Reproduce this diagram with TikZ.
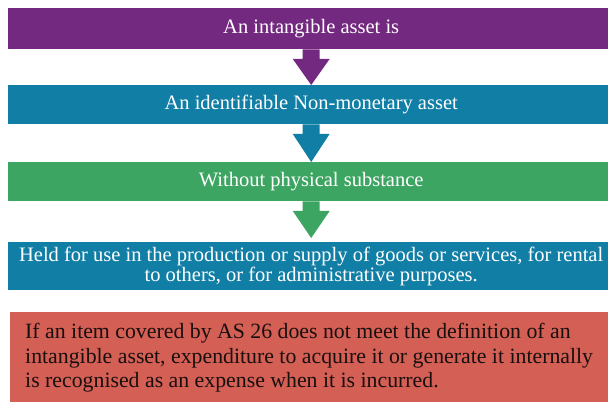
\documentclass[tikz,border=0pt]{standalone}
\usepackage{fontspec}
\setmainfont{Liberation Serif}
\usetikzlibrary{calc}
\definecolor{cpurple}{RGB}{116,41,128}
\definecolor{cteal}{RGB}{17,127,165}
\definecolor{cgreen}{RGB}{61,165,98}
\definecolor{cred}{RGB}{212,95,85}
\definecolor{ctext}{RGB}{25,15,15}
\begin{document}
\begin{tikzpicture}[x=1pt,y=-1pt,
  bar/.style={anchor=north west, minimum width=606pt, inner sep=0pt,
    text=white, font=\fontsize{20.5}{18}\selectfont, align=center},
  note/.style={anchor=north west, minimum width=602pt, minimum height=90pt,
    inner sep=0pt, fill=cred},
  notetext/.style={anchor=base west, inner sep=0pt, text=ctext,
    font=\fontsize{21.8}{24.5}\selectfont, align=left}
]
\useasboundingbox (0,0) rectangle (608,403);
\clip (0,0) rectangle (608,403);
\fill[white] (0,0) rectangle (608,403);

\node[bar, fill=cpurple, minimum height=41pt] (b1) at (8,8) {An intangible asset is};
\node[bar, fill=cteal, minimum height=39pt] (b2) at (8,85) {An identifiable Non-monetary asset};
\node[bar, fill=cgreen, minimum height=39pt] (b3) at (8,162) {Without physical substance};
\node[bar, fill=cteal, minimum height=48pt] (b4) at (8,242) {Held for use in the production or supply of goods or services, for rental\\to others, or for administrative purposes.};

\node[note] (n) at (10,312) {};
\node[notetext] (nt) at (25,388) {If an item covered by AS 26 does not meet the definition of an\\intangible asset, expenditure to acquire it or generate it internally\\is recognised as an expense when it is incurred.};

\coordinate (t3) at ($(b4.north)+(0,-4)$);
\foreach \a/\b/\c in {b1/b2.north/cpurple, b2/b3.north/cteal, b3/t3/cgreen}{
  \fill[\c] ($(\a.south)+(-8.5,0)$) -- ($(\a.south)+(8.5,0)$) --
    ($(\a.south)+(8.5,9.5)$) -- ($(\a.south)+(18.5,9.5)$) -- (\b) --
    ($(\a.south)+(-18.5,9.5)$) -- ($(\a.south)+(-8.5,9.5)$) -- cycle;
}
\end{tikzpicture}
\end{document}
